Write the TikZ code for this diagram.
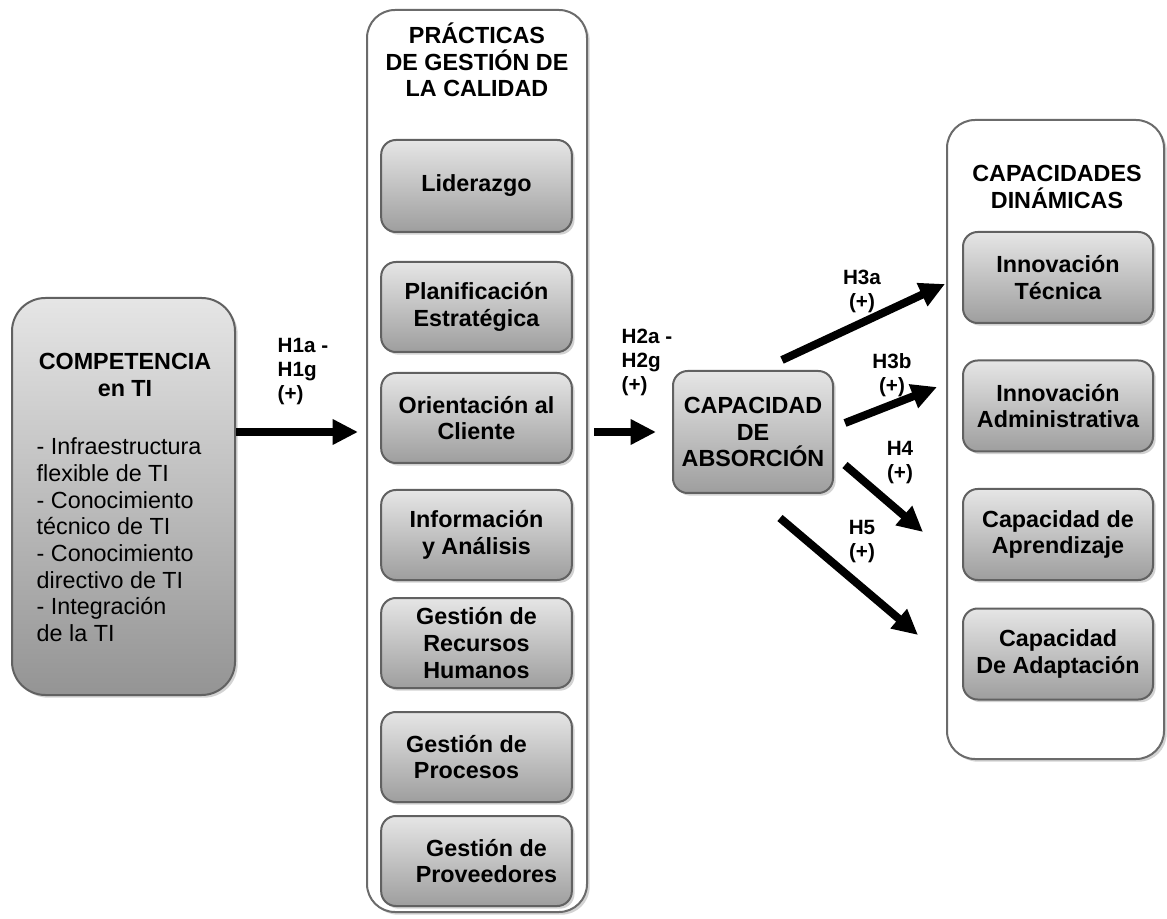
\documentclass[tikz,border=0pt]{standalone}
\usepackage{fontspec}
\setmainfont{Liberation Sans}
\usetikzlibrary{arrows.meta,shadows}

\begin{document}
\begin{tikzpicture}[x=0.75pt,y=-0.75pt,
	every node/.style={font=\fontsize{17.5}{20}\selectfont},
	shade/.style={drop shadow={shadow xshift=2pt,shadow yshift=-2pt,opacity=0.35}},
	frame/.style={shade,draw=black!58,line width=1.5pt,fill=white,rounded corners=21pt,inner sep=0pt},
	item/.style={shade,draw=black!62,line width=1.5pt,rounded corners=11pt,top color=black!10,bottom color=black!38,
		inner sep=0pt,minimum width=143pt,minimum height=67.5pt,align=center,font=\fontsize{17.5}{20}\selectfont\bfseries},
	head/.style={align=center,font=\fontsize{17.5}{20}\selectfont\bfseries},
	hyp/.style={line width=6pt,-{Triangle[length=19pt,width=18pt]}},
	lab/.style={align=left,font=\fontsize{15.5}{18}\selectfont\bfseries}]
\useasboundingbox (0,0) rectangle (1167,919);

% containers
\path (477,461) node[frame,minimum width=165pt,minimum height=676.5pt] (pgc) {}
		(1055.5,439.5) node[frame,minimum width=162.75pt,minimum height=479.25pt] (capd) {}
		(123.5,496.5) node[item,rounded corners=25pt,bottom color=black!42,minimum width=167.25pt,minimum height=297.75pt] (comp) {}
		;

% texts of the big boxes
\path (477,60) node[head] (pgct) {PRÁCTICAS\\DE GESTIÓN DE\\LA CALIDAD}
		(1057,187) node[head] (capt) {CAPACIDADES\\DINÁMICAS}
		(125,375) node[head] (compt) {COMPETENCIA\\en TI}
		(32,540) node[anchor=west,align=left] (compl) {- Infraestructura\\flexible de TI\\- Conocimiento\\técnico de TI\\- Conocimiento\\directivo de TI\\- Integración\\de la TI}
		;

% quality practices
\path (476.5,186) node[item,minimum height=69pt] (lid) {Liderazgo}
		(476.5,307) node[item] (plan) {Planificación\\Estratégica}
		(476.5,418) node[item] (orie) {Orientación al\\Cliente}
		(476.5,535) node[item] (info) {Información\\y Análisis}
		(476.5,643) node[item] (rrhh) {Gestión de\\Recursos\\Humanos}
		(476.5,757) node[item,label={[head,xshift=-7.5pt]center:Gestión de\\Procesos}] (proc) {}
		(476.5,861) node[item,label={[head,xshift=7.5pt]center:Gestión de\\Proveedores}] (prov) {}
		;

% absorptive capacity and dynamic capabilities
\path (753,432) node[item,minimum width=120pt,minimum height=91.5pt] (abs) {CAPACIDAD\\DE\\ABSORCIÓN}
		(1058,277.5) node[item,minimum width=142.5pt,minimum height=68.25pt] (innt) {Innovación\\Técnica}
		(1058,406) node[item,minimum width=142.5pt,minimum height=68.25pt] (inna) {Innovación\\Administrativa}
		(1058,534.5) node[item,minimum width=142.5pt,minimum height=68.25pt] (apre) {Capacidad de\\Aprendizaje}
		(1058,654) node[item,minimum width=142.5pt,minimum height=68.25pt] (adap) {Capacidad\\De Adaptación}
		;

% hypotheses
\path (273,372) node[lab,anchor=west] (h1) {H1a -\\H1g\\(+)}
		(617,362) node[lab,anchor=west] (h2) {H2a -\\H2g\\(+)}
		(862,291) node[lab,align=center] (h3a) {H3a\\(+)}
		(892,375) node[lab,align=center] (h3b) {H3b\\(+)}
		(900,463) node[lab,align=center] (h4) {H4\\(+)}
		(862,542) node[lab,align=center] (h5) {H5\\(+)}
		;

\coordinate (h1e) at (358,432);
\coordinate (a3s) at (782,360);
\coordinate (a3e) at (945,284);
\coordinate (b3s) at (845,423);
\coordinate (b3e) at (937,387);
\coordinate (c4s) at (845,465);
\coordinate (c4e) at (923,532);
\coordinate (d5s) at (780,518);
\coordinate (d5e) at (918,635);

\draw[hyp] (comp.east |- h1e) -- (h1e);
\draw[hyp,shorten <=4.5pt,shorten >=12pt] (pgc.east |- abs.west) -- (abs.west);
\draw[hyp] (a3s) -- (a3e);
\draw[hyp] (b3s) -- (b3e);
\draw[hyp] (c4s) -- (c4e);
\draw[hyp] (d5s) -- (d5e);
\end{tikzpicture}
\end{document}
